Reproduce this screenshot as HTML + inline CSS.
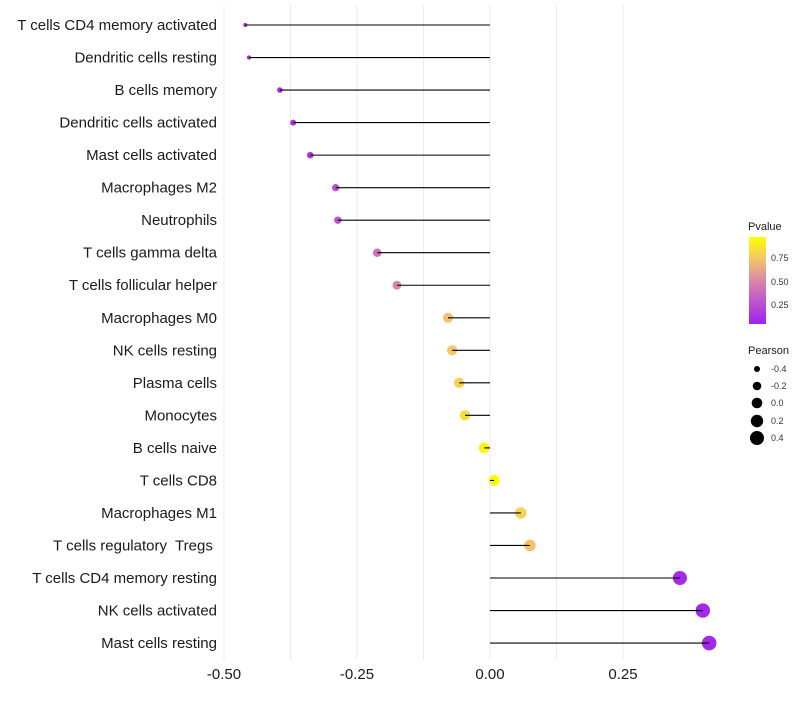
<!DOCTYPE html>
<html><head><meta charset="utf-8"><style>
body{margin:0;background:#fff;font-family:"Liberation Sans",Arial,sans-serif}
text{white-space:pre}
</style></head><body>
<svg id="c" width="800" height="700" xmlns="http://www.w3.org/2000/svg"></svg>
<script>
const categories=["T cells CD4 memory activated","Dendritic cells resting","B cells memory","Dendritic cells activated","Mast cells activated","Macrophages M2","Neutrophils","T cells gamma delta","T cells follicular helper","Macrophages M0","NK cells resting","Plasma cells","Monocytes","B cells naive","T cells CD8","Macrophages M1","T cells regulatory  Tregs ","T cells CD4 memory resting","NK cells activated","Mast cells resting"];
const pearson=[-0.46,-0.453,-0.395,-0.37,-0.338,-0.29,-0.286,-0.212,-0.175,-0.079,-0.071,-0.058,-0.047,-0.011,0.008,0.058,0.075,0.357,0.40,0.412];
const pvalue=[0.02,0.03,0.06,0.08,0.12,0.22,0.24,0.4,0.5,0.74,0.76,0.8,0.85,0.95,0.98,0.8,0.74,0.05,0.04,0.04];
const xTicks=[-0.5,-0.25,0,0.25];
const xTickLabels=["-0.50","-0.25","0.00","0.25"];
const minorTicks=[-0.375,-0.125,0.125];
const NS="http://www.w3.org/2000/svg",svg=document.getElementById('c');
const X=v=>490+v*532, Y=i=>25+i*32.53;
const R=v=>Math.sqrt(4+56*(v+0.46));
const stops=[[0,[160,32,240]],[0.5,[218,135,170]],[0.75,[244,198,105]],[1,[255,255,0]]];
function col(p){for(let k=1;k<stops.length;k++){if(p<=stops[k][0]){const a=stops[k-1],b=stops[k],t=(p-a[0])/(b[0]-a[0]);return 'rgb('+a[1].map((c,j)=>Math.round(c+(b[1][j]-c)*t)).join(',')+')';}}return 'rgb(255,255,0)';}
function el(t,a,txt){const e=document.createElementNS(NS,t);for(const k in a)e.setAttribute(k,a[k]);if(txt!==undefined)e.textContent=txt;svg.appendChild(e);return e;}
minorTicks.concat(xTicks).forEach(v=>{const g=el('line',{x1:X(v),x2:X(v),y1:5,y2:660,stroke:'#ebebeb','stroke-width':1});

});
xTicks.forEach((v,i)=>{const t=el('text',{x:X(v),y:679,'text-anchor':'middle','font-size':15,fill:'#1a1a1a'},xTickLabels[i]);

});
categories.forEach((c,i)=>{
const t=el('text',{x:217,y:Y(i)+5,'text-anchor':'end','font-size':15,fill:'#1a1a1a'},c);


const p=el('circle',{cx:X(pearson[i]),cy:Y(i),r:R(pearson[i]),fill:col(pvalue[i])});


const l=el('line',{x1:X(0),x2:X(pearson[i]),y1:Y(i),y2:Y(i),stroke:'#000','stroke-width':1.1});


});
const defs=el('defs',{});
defs.innerHTML='<linearGradient id="g" x1="0" y1="1" x2="0" y2="0"><stop offset="0" stop-color="rgb(160,32,240)"/><stop offset="0.5" stop-color="rgb(218,135,170)"/><stop offset="0.75" stop-color="rgb(244,198,105)"/><stop offset="1" stop-color="rgb(255,255,0)"/></linearGradient>';
const lt=el('text',{x:748,y:230,'font-size':11,fill:'#1a1a1a'},'Pvalue');

const bar=el('rect',{x:749,y:237,width:17,height:87,fill:'url(#g)'});

[["0.75",261],["0.50",285],["0.25",308]].forEach(d=>{const t=el('text',{x:771,y:d[1],'font-size':9,fill:'#333'},d[0]);
});
const pt=el('text',{x:748,y:354,'font-size':11,fill:'#1a1a1a'},'Pearson');

[["-0.4",369,3],["-0.2",386,4.3],["0.0",403,5.3],["0.2",421,6.2],["0.4",438,7]].forEach(d=>{
const c=el('circle',{cx:757,cy:d[1],r:d[2],fill:'#000'});

const t=el('text',{x:771,y:d[1]+3,'font-size':9,fill:'#333'},d[0]);
});
</script>
</body></html>
